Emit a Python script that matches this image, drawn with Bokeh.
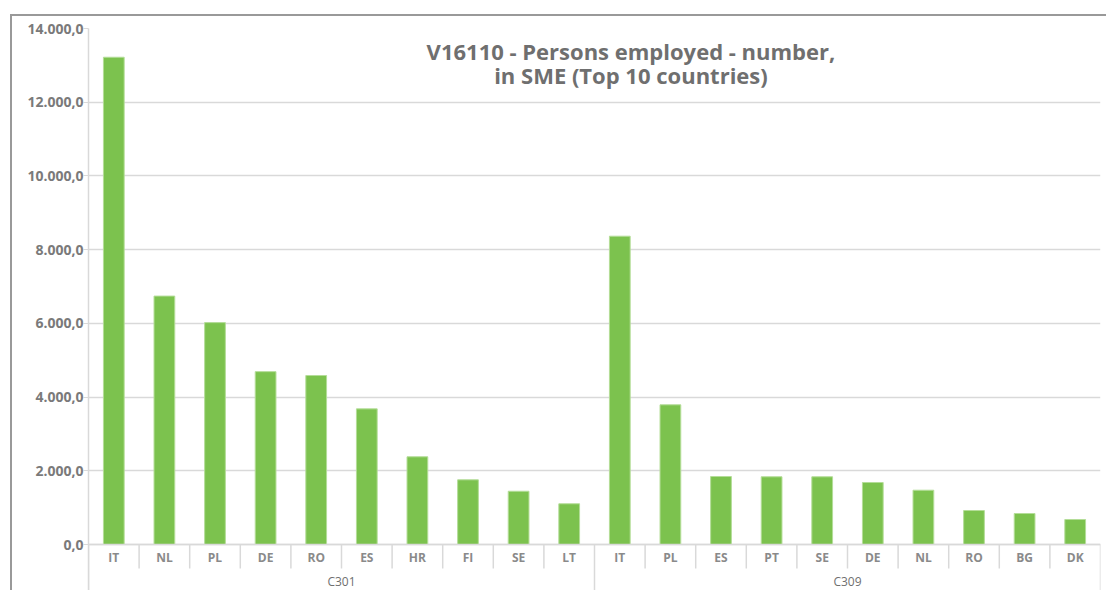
from bokeh.plotting import figure
from bokeh.models import FactorRange, Range1d, FixedTicker, Label, ColumnDataSource
from bokeh.embed import file_html
from bokeh.resources import INLINE

# ---- data ----
groups = ["C301", "C309"]
c301_countries = ["IT", "NL", "PL", "DE", "RO", "ES", "HR", "FI", "SE", "LT"]
c301_values = [13220, 6740, 6020, 4690, 4585, 3680, 2380, 1755, 1445, 1105]
c309_countries = ["IT", "PL", "ES", "PT", "SE", "DE", "NL", "RO", "BG", "DK"]
c309_values = [8365, 3790, 1845, 1837, 1837, 1682, 1473, 922, 841, 678]
y_ticks = [0, 2000, 4000, 6000, 8000, 10000, 12000, 14000]
y_tick_labels = ["0,0", "2.000,0", "4.000,0", "6.000,0", "8.000,0",
                 "10.000,0", "12.000,0", "14.000,0"]
title_lines = ["V16110 - Persons employed - number,", "in SME (Top 10 countries)"]

factors = [(groups[0], c) for c in c301_countries] + [(groups[1], c) for c in c309_countries]
values = c301_values + c309_values
src = ColumnDataSource(dict(x=factors, top=values))

FONT = "Open Sans"
GRAY = "#6f6f6f"
LINE = "#d9d9d9"

Y_MAX = 14000
Y_MIN = -1248  # room below zero for the category axis

p = figure(
    x_range=FactorRange(*factors, factor_padding=0, group_padding=0, range_padding=0),
    y_range=Range1d(Y_MIN, Y_MAX),
    frame_width=1012, frame_height=562,
    min_border_left=76, min_border_right=6, min_border_top=12, min_border_bottom=0,
    output_backend="svg", toolbar_location=None,
)
p.outline_line_color = None
p.background_fill_color = "white"
p.border_fill_color = "white"

p.vbar(x="x", top="top", width=0.41, source=src, fill_color="#7cc24e",
       line_color="#b4dd98", line_width=1)

# separators of the category axis
n1, n2 = len(c301_countries), len(c309_countries)
inner = [i for i in range(1, n1)] + [n1 + i for i in range(1, n2)]
outer = [0, n1, n1 + n2]
p.segment(x0=inner, x1=inner, y0=[0] * len(inner), y1=[-651] * len(inner),
          line_color=LINE, line_width=1.5)
p.segment(x0=outer, x1=outer, y0=[0] * 3, y1=[Y_MIN] * 3,
          line_color=LINE, line_width=1.5)

# y axis
p.yaxis.ticker = FixedTicker(ticks=y_ticks)
p.yaxis.major_label_overrides = {t: l for t, l in zip(y_ticks, y_tick_labels)}
p.yaxis.axis_line_color = LINE
p.yaxis.axis_line_width = 1.5
p.yaxis.major_tick_line_color = LINE
p.yaxis.major_tick_in = 0
p.yaxis.major_tick_out = 5
p.yaxis.minor_tick_line_color = None
p.yaxis.major_label_standoff = 0
p.yaxis.major_label_text_font = FONT
p.yaxis.major_label_text_font_size = "14px"
p.yaxis.major_label_text_font_style = "bold"
p.yaxis.major_label_text_color = "#7a7a7a"

# x axis, drawn at zero inside the frame
p.xaxis.fixed_location = 0
p.xaxis.axis_line_color = LINE
p.xaxis.axis_line_width = 1.5
p.xaxis.major_tick_line_color = None
p.xaxis.major_tick_out = 0
p.xaxis.major_tick_in = 0
p.xaxis.major_label_text_font = FONT
p.xaxis.major_label_text_font_size = "12px"
p.xaxis.major_label_text_font_style = "bold"
p.xaxis.major_label_text_color = "#8a8a8a"
p.xaxis.major_label_standoff = 4
p.xaxis.group_text_font = FONT
p.xaxis.group_text_font_size = "12px"
p.xaxis.group_text_font_style = "normal"
p.xaxis.group_text_color = "#6f6f6f"
try:
    p.xaxis.separator_line_color = None
except Exception:
    pass

p.xgrid.grid_line_color = None
p.ygrid.grid_line_color = LINE
p.ygrid.grid_line_width = 1.5

# title inside plot
p.add_layout(Label(x=10.72, y=13400, text=title_lines[0], text_align="center",
                   text_baseline="alphabetic", text_font=FONT, text_font_size="22px",
                   text_font_style="bold", text_color=GRAY))
p.add_layout(Label(x=10.72, y=12740, text=title_lines[1], text_align="center",
                   text_baseline="alphabetic", text_font=FONT, text_font_size="22px",
                   text_font_style="bold", text_color=GRAY))

p.styles = {"border-top": "2px solid #999999", "border-left": "2px solid #999999",
            "margin-top": "14px", "margin-left": "10px"}

open("out.html", "w").write(file_html(p, INLINE))
